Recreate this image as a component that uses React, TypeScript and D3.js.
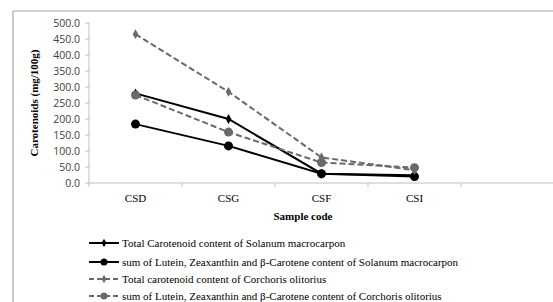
import React from "react";
import * as d3 from "d3";

const categories = ["CSD", "CSG", "CSF", "CSI"];
const totalSolanum = [280, 200, 29, 24];
const sumSolanum = [184, 116, 29, 20];
const totalCorchorus = [465, 285, 80, 40];
const sumCorchorus = [275, 159, 64, 48];
const yTicks = [0, 50, 100, 150, 200, 250, 300, 350, 400, 450, 500];
const seriesNames = [
  "Total Carotenoid content of Solanum macrocarpon",
  "sum of Lutein, Zeaxanthin and β-Carotene content of Solanum macrocarpon",
  "Total carotenoid content of Corchoris olitorius",
  "sum of Lutein, Zeaxanthin and β-Carotene content of Corchoris olitorius",
];

const W = 553;
const H = 302;
const SERIF = "Liberation Serif, Times New Roman, DejaVu Serif, serif";

export default function App() {
  const x = d3
    .scaleBand<string>()
    .domain([...categories, "_empty"])
    .range([89, 554])
    .paddingInner(0)
    .paddingOuter(0);
  const y = d3.scaleLinear().domain([0, 500]).range([183, 23]);
  const cx = (c: string) => (x(c) as number) + x.bandwidth() / 2;

  const series = [
    { values: totalSolanum, color: "#000000", dash: undefined, marker: "diamond" },
    { values: sumSolanum, color: "#000000", dash: undefined, marker: "circle" },
    { values: totalCorchorus, color: "#6a6a6a", dash: "6,3", marker: "diamond" },
    { values: sumCorchorus, color: "#6a6a6a", dash: "6,3", marker: "circle" },
  ];

  const line = d3
    .line<number>()
    .x((_, i) => cx(categories[i]))
    .y((v) => y(v));

  const diamond = d3.symbol().type(d3.symbolDiamond).size(28)();
  const diamondSmall = d3.symbol().type(d3.symbolDiamond).size(20)();

  const bandEdges = x.domain().map((c) => x(c) as number).concat([554]);

  const legendY = [243, 262, 279, 296];

  return (
    <svg
      width={W}
      height={H}
      style={{ position: "absolute", left: 0, top: 0, background: "#fff" }}
    >
      <rect x={0} y={0} width={W} height={H} fill="#fff" />
      {/* outer frame */}
      <line x1={13} y1={11} x2={W} y2={11} stroke="#a6a6a6" strokeWidth={1.2} />
      <line x1={13} y1={11} x2={13} y2={H} stroke="#a6a6a6" strokeWidth={1.2} />

      {/* y axis */}
      <line x1={89} y1={y(0)} x2={89} y2={y(500)} stroke="#bfbfbf" strokeWidth={1} />
      {yTicks.map((t) => (
        <g key={t}>
          <line x1={85} x2={89} y1={y(t)} y2={y(t)} stroke="#bfbfbf" />
          <text
            x={80}
            y={y(t)}
            dy="0.35em"
            textAnchor="end"
            fontFamily="Open Sans, DejaVu Sans, sans-serif"
            fontSize={10.5}
            fill="#404040"
          >
            {t.toFixed(1)}
          </text>
        </g>
      ))}
      <text
        transform={`translate(38,${(y(0) + y(500)) / 2}) rotate(-90)`}
        textAnchor="middle"
        fontFamily={SERIF}
        fontWeight="bold"
        fontSize={11}
        fill="#000"
      >
        Carotenoids (mg/100g)
      </text>

      {/* x axis */}
      <line x1={89} y1={y(0)} x2={W} y2={y(0)} stroke="#bfbfbf" strokeWidth={1.2} />
      {bandEdges.map((e, i) => (
        <line key={i} x1={e} x2={e} y1={y(0)} y2={y(0) + 4} stroke="#bfbfbf" />
      ))}
      {categories.map((c) => (
        <text
          key={c}
          x={cx(c)}
          y={202}
          textAnchor="middle"
          fontFamily={SERIF}
          fontSize={11}
          fill="#000"
        >
          {c}
        </text>
      ))}
      <text
        x={303}
        y={220}
        textAnchor="middle"
        fontFamily={SERIF}
        fontWeight="bold"
        fontSize={11}
        fill="#000"
      >
        Sample code
      </text>

      {/* series */}
      {series.map((s, si) => (
        <g key={si}>
          <path
            d={line(s.values) || ""}
            fill="none"
            stroke={s.color}
            strokeWidth={2}
            strokeDasharray={s.dash}
          />
          {s.values.map((v, i) =>
            s.marker === "circle" ? (
              <circle key={i} cx={cx(categories[i])} cy={y(v)} r={4.5} fill={s.color} />
            ) : (
              <path
                key={i}
                d={diamond || ""}
                transform={`translate(${cx(categories[i])},${y(v)})`}
                fill={s.color}
              />
            )
          )}
        </g>
      ))}

      {/* legend */}
      {series.map((s, si) => (
        <g key={si} transform={`translate(0,${legendY[si]})`}>
          <line
            x1={89}
            x2={119}
            y1={0}
            y2={0}
            stroke={s.color}
            strokeWidth={2}
            strokeDasharray={s.dash ? "5,3" : undefined}
          />
          {s.marker === "circle" ? (
            <circle cx={104} cy={0} r={3.5} fill={s.color} />
          ) : (
            <path d={diamondSmall || ""} transform="translate(104,0)" fill={s.color} />
          )}
          <text
            x={122}
            y={0}
            dy="0.35em"
            fontFamily={SERIF}
            fontSize={11}
            fill="#000"
          >
            {seriesNames[si]}
          </text>
        </g>
      ))}
    </svg>
  );
}
